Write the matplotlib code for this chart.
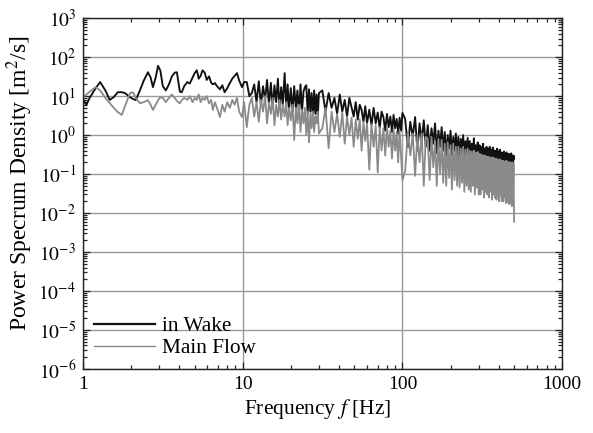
import numpy as np
import matplotlib
matplotlib.use('Agg')
import matplotlib.pyplot as plt
from matplotlib.ticker import LogLocator, NullFormatter

plt.rcParams['font.family'] = ['Liberation Serif', 'DejaVu Serif']
plt.rcParams['mathtext.fontset'] = 'stix'

#=====data
# frequency bins [Hz]
freq = [1.00, 1.05, 1.10, 1.20, 1.28, 1.38, 1.47, 1.56, 1.65, 1.75,
        1.83, 1.97, 2.05, 2.14, 2.27, 2.40, 2.55, 2.65, 2.74, 2.85,
        2.95, 3.05, 3.16, 3.30, 3.45, 3.60, 3.75, 3.87, 4.04, 4.15,
        4.30, 4.50, 4.66, 4.85, 5.00, 5.16, 5.30, 5.45, 5.60, 5.78,
        5.95, 6.15, 6.35, 6.50, 6.70, 6.90, 7.20, 7.45, 7.70, 8.00,
        8.30, 8.60, 8.90, 9.20, 9.50, 9.90,
        10.2, 10.6, 11.0, 11.4, 11.8, 12.2, 12.6, 13.0, 13.4, 13.8,
        14.2, 14.6, 15.0, 15.4, 15.8, 16.2, 16.6, 17.0, 17.4, 17.8,
        18.3, 18.7, 19.1, 19.5, 20.0, 20.5, 21.0, 21.5, 22.0, 22.5,
        23.0, 23.5, 24.0, 24.5, 25.0, 25.5, 26.0, 26.5, 27.0, 27.5,
        28.0, 28.5, 29.0, 29.5, 30.0,
        31.5, 33, 34.5, 36, 37.5, 39, 40.5, 42, 43.5, 45,
        46.5, 48, 49.5, 51, 52.5, 54, 55.5, 57, 58.5, 60,
        62, 64, 66, 68, 70, 72, 74, 76, 78, 80,
        82, 84, 86, 88, 90, 92, 94, 96, 98, 100,
        104, 108, 112, 116, 120, 124, 128, 132, 136, 140,
        144, 148, 152, 156, 160, 164, 168, 172, 176, 180,
        184, 188, 192, 196, 200, 204, 208, 212, 216, 220,
        224, 228, 232, 236, 240, 244, 248, 252, 256, 260,
        264, 268, 272, 276, 280, 284, 288, 292, 296, 300,
        304, 308, 312, 316, 320, 324, 328, 332, 336, 340,
        344, 348, 352, 356, 360, 364, 368, 372, 376, 380,
        384, 388, 392, 396, 400, 404, 408, 412, 416, 420,
        424, 428, 432, 436, 440, 444, 448, 452, 456, 460,
        464, 468, 472, 476, 480, 484, 488, 492, 496, 500]

# PSD in wake [m2/s]
wake = [8, 6, 9, 16, 23, 14, 8, 9.5, 12.6, 12.6,
        12, 9.4, 8.5, 7.9, 14, 25, 41, 30, 17, 30,
        60, 45, 18, 14, 20, 32, 40, 41, 13, 12.6,
        18, 23, 21, 30, 39, 46, 28, 33, 46, 40,
        26, 32, 22, 20, 21.6, 18, 15, 19, 12.6, 16,
        21.6, 28, 33, 39, 25, 17,
        23, 23, 10, 12, 20, 7, 24, 6, 18, 8,
        26, 6, 22, 5, 19, 7, 28, 5, 17, 6,
        39, 5, 20, 4.5, 16, 4, 18, 5, 14, 3.5,
        20, 4, 13, 17, 19, 3.5, 15, 4, 12, 3,
        14, 3.5, 11, 3, 12,
        14, 4, 12, 5, 9, 3.5, 11, 4, 8, 3,
        9, 5.2, 3, 7, 2.5, 6, 4.4, 2.2, 5.5, 2,
        4.5, 1.8, 5, 2, 3.8, 1.5, 4, 2.9, 1.3, 3.5,
        1.6, 3, 1.2, 3.3, 1.5, 2.6, 1.1, 2.8, 1.3, 3.7,
        2.6, 0.5, 2.2, 0.9, 2.9, 0.4, 2.0, 0.7, 2.4, 0.5,
        1.8, 0.4, 1.5, 0.6, 2.0, 0.35, 1.3, 0.5, 1.6, 0.4,
        1.2, 0.3, 1.0, 0.45, 1.3, 0.3, 0.9, 0.4, 1.1, 0.3,
        0.9, 0.25, 0.8, 0.35, 1.0, 0.22, 0.7, 0.3, 0.85, 0.25,
        0.7, 0.2, 0.6, 0.28, 0.83, 0.2, 0.55, 0.25, 0.65, 0.2,
        0.55, 0.18, 0.5, 0.22, 0.6, 0.17, 0.45, 0.2, 0.5, 0.16,
        0.45, 0.15, 0.5, 0.2, 0.42, 0.15, 0.48, 0.18, 0.4, 0.15,
        0.4, 0.14, 0.45, 0.17, 0.38, 0.13, 0.42, 0.16, 0.36, 0.14,
        0.35, 0.12, 0.38, 0.15, 0.33, 0.12, 0.36, 0.14, 0.32, 0.12,
        0.33, 0.11, 0.3, 0.13, 0.34, 0.1, 0.28, 0.12, 0.3, 0.25]

# PSD in main flow [m2/s]
main = [9.5, 11, 13, 17, 14, 9, 6.6, 5, 3.9, 3.3,
        5.5, 12, 12.6, 9, 6.6, 7, 7.9, 6, 4.4, 6,
        7.9, 9.4, 9, 7, 9, 11, 9, 7.5, 6.5, 7.9,
        9, 8, 10, 7, 9, 8, 11, 7, 9, 8,
        10, 6.5, 8, 4.4, 7, 5, 2.9, 6, 4, 7,
        5, 8, 6, 9, 4, 2.9,
        7, 1.6, 6, 9, 3, 7, 2.2, 8, 4, 10,
        2, 7, 3.5, 9, 1.8, 6, 3, 8, 2.5, 6,
        3, 7, 1.8, 5, 2.4, 6, 0.75, 5, 2, 6,
        1.2, 4.5, 2, 5, 1.0, 4, 0.65, 3.5, 1.5, 4,
        1.2, 3, 2, 4, 1.1,
        1.5, 5, 0.46, 4, 1.2, 3.5, 0.9, 3.8, 0.6, 3,
        1.0, 2.8, 0.5, 2.5, 0.8, 2.6, 0.4, 2.2, 0.7, 2,
        0.13, 1.9, 0.5, 1.8, 0.11, 1.6, 0.4, 1.5, 0.3, 1.6,
        0.5, 1.3, 0.25, 1.4, 0.4, 1.2, 0.2, 1.3, 0.3, 0.07,
        0.12, 1.2, 0.3, 1.1, 0.09, 1.0, 0.2, 1.1, 0.05, 0.9,
        0.8, 0.07, 0.9, 0.15, 0.7, 0.05, 0.8, 0.1, 0.75, 0.06,
        0.6, 0.05, 0.65, 0.08, 0.55, 0.04, 0.6, 0.07, 0.5, 0.05,
        0.5, 0.045, 0.45, 0.06, 0.5, 0.035, 0.42, 0.05, 0.45, 0.04,
        0.4, 0.035, 0.38, 0.05, 0.4, 0.03, 0.35, 0.045, 0.37, 0.03,
        0.33, 0.03, 0.32, 0.04, 0.3, 0.025, 0.3, 0.035, 0.28, 0.03,
        0.28, 0.025, 0.27, 0.035, 0.26, 0.022, 0.27, 0.03, 0.25, 0.025,
        0.25, 0.022, 0.24, 0.03, 0.23, 0.02, 0.24, 0.028, 0.22, 0.02,
        0.22, 0.02, 0.21, 0.026, 0.21, 0.018, 0.22, 0.025, 0.2, 0.018,
        0.2, 0.017, 0.2, 0.024, 0.19, 0.015, 0.2, 0.02, 0.18, 0.006]

yticks = [1e-6, 1e-5, 1e-4, 1e-3, 1e-2, 1e-1, 1e0, 1e1, 1e2, 1e3]
ytick_labels = ['$10^{-6}$', '$10^{-5}$', '$10^{-4}$', '$10^{-3}$', '$10^{-2}$',
                '$10^{-1}$', '$10^{0}$', '$10^{1}$', '$10^{2}$', '$10^{3}$']
xticks = [1, 10, 100, 1000]
xtick_labels = ['1', '10', '100', '1000']

#=====plot
fig = plt.figure(figsize=(5.93, 4.33), dpi=100)
ax = fig.add_axes([0.14, 0.148, 0.808, 0.81])

ax.plot(freq, wake, color='#111111', lw=1.35, label='in Wake')
ax.plot(freq, main, color='#8a8a8a', lw=1.3, label='Main Flow')

ax.set_xscale('log')
ax.set_yscale('log')
ax.set_xlim(1, 1000)
ax.set_ylim(1e-6, 1e3)

ax.set_xticks(xticks)
ax.set_xticklabels(xtick_labels)
ax.set_yticks(yticks)
ax.set_yticklabels(ytick_labels)
ax.xaxis.set_minor_locator(LogLocator(base=10, subs=np.arange(2, 10)))
ax.yaxis.set_minor_locator(LogLocator(base=10, subs=np.arange(2, 10), numticks=20))
ax.xaxis.set_minor_formatter(NullFormatter())
ax.yaxis.set_minor_formatter(NullFormatter())

ax.tick_params(which='both', direction='in', top=True, right=True,
               labelsize=14, color='#222222', width=0.9)
ax.tick_params(which='major', length=5, pad=5)
ax.tick_params(which='minor', length=3)
ax.grid(True, which='major', color='#9a9a9a', lw=1.0)
for s in ax.spines.values():
    s.set_color('#222222')
    s.set_linewidth(1.0)

ax.set_xlabel('Frequency $f$ [Hz]', fontsize=15.5)
ax.set_ylabel('Power Specrum Density [m$^2$/s]', fontsize=17)
ax.xaxis.set_label_coords(0.49, -0.08)
ax.yaxis.set_label_coords(-0.10, 0.53)

leg = ax.legend(loc='lower left', frameon=False, fontsize=15.3, handlelength=2.9,
                handletextpad=0.3, labelspacing=0.1, borderaxespad=0.2,
                borderpad=0.3)
leg.get_lines()[0].set_linewidth(1.6)
leg.get_lines()[1].set_linewidth(1.0)

fig.savefig('out.png', dpi=100)
